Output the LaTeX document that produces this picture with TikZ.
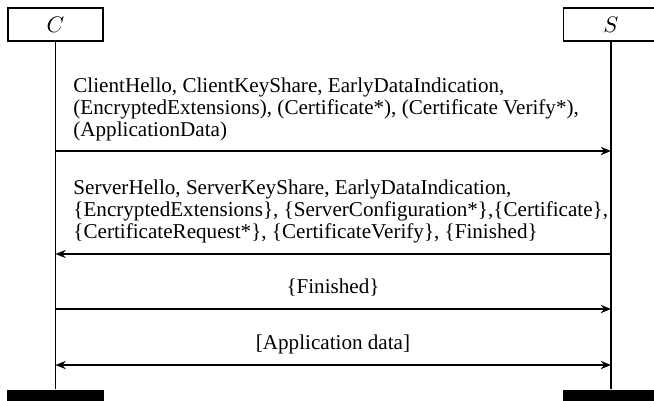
\documentclass[tikz,border=0pt]{standalone}
\usepackage{fontspec}
\setmainfont{Liberation Serif}
\usetikzlibrary{arrows.meta}
\tikzset{
	party/.style={draw, line width=0.8pt, minimum width=46.3pt, minimum height=16pt, inner sep=0pt, font=\fontsize{11pt}{12pt}\selectfont},
	endbar/.style={fill=black, minimum width=47.3pt, minimum height=6pt, inner sep=0pt},
	lifeline/.style={line width=0.8pt},
	msg/.style={line width=0.8pt, -{Stealth[length=5pt, width=4pt]}},
	twoway/.style={line width=0.8pt, {Stealth[length=5pt, width=4pt]}-{Stealth[length=5pt, width=4pt]}},
	msgtext/.style={inner sep=0pt, align=left, font=\fontsize{10.3pt}{10.7pt}\selectfont}
}

\begin{document}
\begin{tikzpicture}[x=0.4878pt, y=-0.4878pt]
		%%%%% START %%%%%
		\useasboundingbox (0, 0) rectangle (654, 400);
		
		\node[party] (C) at (55.5, 24.5) {$C$};
		\node[party] (S) at (611, 24.5) {$S$};
		
		\node[endbar] (Cend) at (55.5, 396) {};
		\node[endbar] (Send) at (611, 396) {};
		
		\draw[lifeline] (C) -- (Cend);
		\draw[lifeline] (S) -- (Send);
		
		\coordinate (c1) at (55.5, 151);
		\coordinate (s1) at (611, 151);
		\coordinate (c2) at (55.5, 254);
		\coordinate (s2) at (611, 254);
		\coordinate (c3) at (55.5, 309);
		\coordinate (s3) at (611, 309);
		\coordinate (c4) at (55.5, 365);
		\coordinate (s4) at (611, 365);
		
		% client first flight
		\node[msgtext, anchor=base west] (hello) at (73, 136) {ClientHello, ClientKeyShare, EarlyDataIndication,\\(EncryptedExtensions), (Certificate*), (Certificate Verify*),\\(ApplicationData)};
		\draw[msg] (c1) -- (s1);
		
		% server answer
		\node[msgtext, anchor=base west] (reply) at (73, 238) {ServerHello, ServerKeyShare, EarlyDataIndication,\\\{EncryptedExtensions\}, \{ServerConfiguration*\},\{Certificate\},\\\{CertificateRequest*\}, \{CertificateVerify\}, \{Finished\}};
		\draw[msg] (s2) -- (c2);
		
		\node[msgtext, anchor=base] (fin) at (333, 293) {\{Finished\}};
		\draw[msg] (c3) -- (s3);
		
		\node[msgtext, anchor=base] (appdata) at (333, 349) {[Application data]};
		\draw[twoway] (c4) -- (s4);
		
		%%%%% END %%%%%
	\end{tikzpicture}
\end{document}
